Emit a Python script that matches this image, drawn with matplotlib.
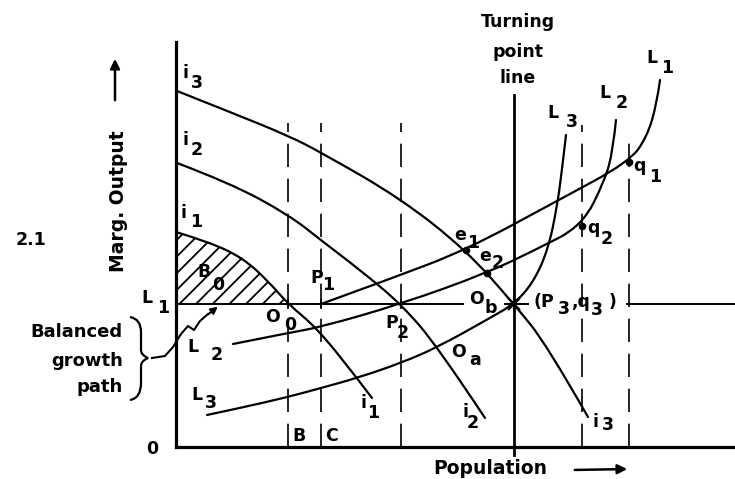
import matplotlib.pyplot as plt
from matplotlib.path import Path
from matplotlib.patches import PathPatch

plt.rcParams['font.family'] = 'DejaVu Sans'
plt.rcParams['font.weight'] = 'bold'
plt.rcParams['hatch.linewidth'] = 1.3

# chart units: x = population, y = marginal output (origin at the axes corner)
l1_level = 143
turning_x = 338

i1_x = [0, 33, 67, 93, 112, 141, 181, 196]
i1_y = [215, 205, 189, 165, 143, 119, 69, 49]
i2_x = [1, 54, 113, 146, 184, 225, 262, 309]
i2_y = [284, 264, 232, 206, 177, 143, 100, 29]
i3_x = [1, 54, 113, 146, 224, 290, 338, 371, 412]
i3_y = [356, 335, 311, 294, 249, 197, 143, 102, 30]

L1_x = [145, 214, 290, 381, 453, 471, 481, 484]
L1_y = [143, 168, 197, 246, 285, 310, 344, 367]
L2_x = [57, 112, 145, 225, 311, 359, 406, 429, 437, 440]
L2_y = [103, 114, 120, 143, 174, 197, 221, 267, 297, 327]
L3_x = [31, 64, 112, 145, 181, 225, 262, 314, 338, 357, 372, 381, 386, 390]
L3_y = [32, 39, 50, 59, 69, 84, 100, 129, 143, 164, 197, 240, 277, 312]

dash_x = [112, 145, 225, 406, 453]
dash_top = [324, 324, 324, 322, 315]

dot_x = [290, 311, 406, 453]
dot_y = [197, 174, 221, 285]
cross_x = [112, 145, 225]

labels = [
    ("i", 9, 374), ("3", 21, 364), ("i", 9, 307), ("2", 21, 297),
    ("i", 7, 234), ("1", 20, 225), ("B", 28, 175), ("0", 42, 162),
    ("L", -29, 149), ("1", -13, 139), ("O", 97, 130), ("0", 114, 122),
    ("P", 141, 169), ("1", 152, 162), ("P", 216, 124), ("2", 227, 114),
    ("O", 301, 148), ("b", 315, 139), ("O", 282, 95), ("a", 299, 87),
    ("e", 284, 212), ("1", 297, 204), ("e", 309, 191), ("2", 322, 184),
    ("q", 417, 219), ("2", 431, 208), ("q", 463, 281), ("1", 479, 270),
    ("L", 429, 354), ("2", 446, 344), ("L", 476, 389), ("1", 491, 379),
    ("L", 377, 334), ("3", 396, 325), ("L", 17, 100), ("2", 41, 92),
    ("L", 21, 52), ("3", 35, 44), ("i", 187, 44), ("1", 197, 34),
    ("i", 289, 35), ("2", 297, 24), ("i", 419, 25), ("3", 432, 22),
    ("B", 123, 11), ("C", 156, 11), ("0", -24, -2), ("2.1", -145, 207),
    ("(P", 368, 145), ("3", 388, 138), (",q", 405, 145), ("3", 421, 137),
    (")", 437, 145),
]


def smooth_path(xs, ys):
    # quadratic bezier through the mid points, the read points act as controls
    verts = [(xs[0], ys[0])]
    codes = [Path.MOVETO]
    last = len(xs) - 1
    for k in range(1, last):
        if k == last - 1:
            end = (xs[last], ys[last])
        else:
            end = ((xs[k] + xs[k + 1]) / 2, (ys[k] + ys[k + 1]) / 2)
        verts += [(xs[k], ys[k]), end]
        codes += [Path.CURVE3, Path.CURVE3]
    return Path(verts, codes)


fig = plt.figure(figsize=(7.35, 4.79), dpi=100)
ax = fig.add_axes([176 / 735, 32 / 479, 559 / 735, 405 / 479])
ax.set_xlim(0, 559)
ax.set_ylim(0, 405)
ax.spines['top'].set_visible(False)
ax.spines['right'].set_visible(False)
ax.spines['left'].set_linewidth(2.3)
ax.spines['bottom'].set_linewidth(2.3)
ax.set_xticks([])
ax.set_yticks([])

lw = 1.6
# hatched area B0
n = i1_x.index(112) + 1
ax.fill_between(i1_x[:n], l1_level, i1_y[:n], facecolor='none',
                edgecolor='black', hatch='//', linewidth=0)

for xs, ys in [(i1_x, i1_y), (i2_x, i2_y), (i3_x, i3_y),
               (L1_x, L1_y), (L2_x, L2_y), (L3_x, L3_y)]:
    ax.add_patch(PathPatch(smooth_path(xs, ys), facecolor='none',
                           edgecolor='black', lw=lw, capstyle='round'))

# L1 horizontal line (broken where labels sit)
for x0, x1 in [(0, 287), (329, 352), (451, 559)]:
    ax.plot([x0, x1], [l1_level, l1_level], color='black', lw=1.4)

# turning point line
ax.plot([turning_x, turning_x], [-8, 352], color='black', lw=2.0, clip_on=False)

for x, top in zip(dash_x, dash_top):
    ax.plot([x, x], [0, top], color='black', lw=1.2, dashes=(14, 7))

ax.plot(dot_x, dot_y, 'o', color='black', ms=4.5)
ax.plot(cross_x, [l1_level] * 3, '+', color='black', ms=7, mew=1.2)
ax.plot([turning_x], [l1_level], 'x', color='black', ms=9, mew=1.5)
ax.plot([turning_x], [l1_level], '+', color='black', ms=11, mew=1.5)

for s, x, y in labels:
    ax.text(x, y, s, ha='center', va='center', fontsize=12.5)

ax.text(342, 425, "Turning", ha='center', va='center', fontsize=12.5)
ax.text(342, 395, "point", ha='center', va='center', fontsize=12.5)
ax.text(342, 369, "line", ha='center', va='center', fontsize=12.5)

ax.text(-58, 246, "Marg. Output", rotation=90, ha='center', va='center', fontsize=13.5)
ax.annotate("", xy=(-61, 391), xytext=(-61, 344), annotation_clip=False,
            arrowprops=dict(arrowstyle='-|>', color='black', lw=1.8,
                            mutation_scale=14))

ax.text(314, -21, "Population", ha='center', va='center', fontsize=13.5)
ax.annotate("", xy=(454, -22), xytext=(396, -23), annotation_clip=False,
            arrowprops=dict(arrowstyle='-|>', color='black', lw=1.8,
                            mutation_scale=14))

for s, y in [("Balanced", 115), ("growth", 86), ("path", 60)]:
    ax.text(-53, y, s, ha='right', va='center', fontsize=13)

# brace
brace = Path([(-46, 130), (-35, 128), (-35, 115), (-35, 97), (-35, 92), (-28, 89),
              (-35, 86), (-35, 81), (-35, 64), (-35, 49), (-46, 47)],
             [Path.MOVETO, Path.CURVE3, Path.CURVE3, Path.LINETO, Path.CURVE3, Path.CURVE3,
              Path.CURVE3, Path.CURVE3, Path.LINETO, Path.CURVE3, Path.CURVE3])
ax.add_patch(PathPatch(brace, facecolor='none', edgecolor='black', lw=1.6, clip_on=False))

# wiggly pointer to the L1 line
wig_x = [-24, -11, -3, 5, 12, 18, 24, 32]
wig_y = [89, 91, 100, 113, 121, 117, 126, 133]
ax.plot(wig_x, wig_y, color='black', lw=1.5, clip_on=False)
ax.annotate("", xy=(44, 142), xytext=(30, 131), annotation_clip=False,
            arrowprops=dict(arrowstyle='-|>', color='black', lw=1.5,
                            mutation_scale=10))

fig.savefig("out.png", dpi=100)
